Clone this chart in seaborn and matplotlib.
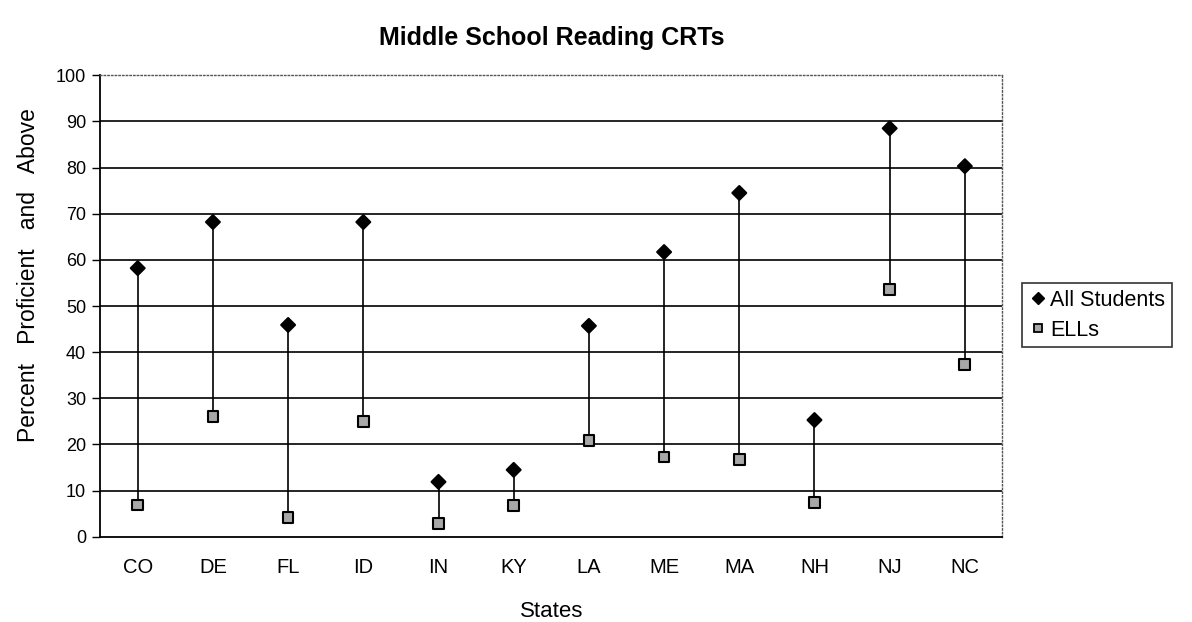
import matplotlib
matplotlib.use("Agg")
import matplotlib.pyplot as plt
from matplotlib.lines import Line2D
import numpy as np
import pandas as pd
import seaborn as sns

# Data
states = ["CO", "DE", "FL", "ID", "IN", "KY", "LA", "ME", "MA", "NH", "NJ", "NC"]
all_students = [58.2, 68.2, 45.9, 68.2, 11.9, 14.5, 45.7, 61.7, 74.5, 25.3, 88.5, 80.3]
ells = [6.9, 26.0, 4.1, 24.9, 2.8, 6.7, 20.8, 17.3, 16.7, 7.4, 53.5, 37.4]

df = pd.DataFrame({"State": states * 2,
                   "Percent": all_students + ells,
                   "Group": ["All Students"] * len(states) + ["ELLs"] * len(states)})

sns.set_style("white")
plt.rcParams["font.family"] = ["Liberation Sans", "DejaVu Sans"]
plt.rcParams["text.color"] = "black"
plt.rcParams["axes.labelcolor"] = "black"
plt.rcParams["xtick.color"] = "black"
plt.rcParams["ytick.color"] = "black"

fig = plt.figure(figsize=(11.92, 6.22), dpi=100)
ax = fig.add_axes([0.084, 0.137, 0.757, 0.742])

# horizontal gridlines
for y in range(10, 100, 10):
    ax.axhline(y, color="black", lw=1.2, zorder=0)

# connecting lines
ax.vlines(np.arange(len(states)), ells, all_students, color="black", lw=1.2, zorder=1)

sns.scatterplot(data=df, x="State", y="Percent", style="Group", hue="Group",
                markers={"All Students": "D", "ELLs": "s"},
                palette={"All Students": "black", "ELLs": "#a8a8a8"},
                size="Group", sizes={"All Students": 50, "ELLs": 60},
                edgecolor="black", linewidth=1.5, ax=ax, zorder=3, legend=False)

ax.set_xlim(-0.5, len(states) - 0.5)
ax.set_ylim(0, 100)
ax.set_yticks(range(0, 101, 10))
ax.set_xticks(np.arange(len(states)))
ax.set_xticklabels(states)
ax.set_xticks(np.arange(len(states) + 1) - 0.5, minor=True)
ax.tick_params(axis="x", which="major", length=0, labelsize=14.5, pad=15)
ax.tick_params(axis="x", which="minor", length=6, width=1, color="black", direction="out")
ax.tick_params(axis="y", length=6, width=1, color="black", labelsize=13, left=True, pad=4)

for side in ["left", "bottom"]:
    ax.spines[side].set_color("black")
    ax.spines[side].set_linewidth(1.3)
for side in ["top", "right"]:
    ax.spines[side].set_color("#555555")
    ax.spines[side].set_linestyle(":")
    ax.spines[side].set_linewidth(1)

ax.set_xlabel("States", fontsize=16)
ax.xaxis.set_label_coords(0.5, -0.14)
ax.set_ylabel("Percent   Proficient   and   Above", fontsize=16.5)
ax.yaxis.set_label_coords(-0.067, 0.567)
ax.set_title("Middle School Reading CRTs", fontsize=18, fontweight="bold", pad=22)

handles = [Line2D([], [], marker="D", ls="", color="black", markersize=6),
           Line2D([], [], marker="s", ls="", markerfacecolor="#a8a8a8",
                  markeredgecolor="black", markeredgewidth=1.3, markersize=6)]
leg = ax.legend(handles, ["All Students", "ELLs"], loc="center left",
                bbox_to_anchor=(1.022, 0.48), fontsize=15.5, frameon=True,
                fancybox=False, edgecolor="black", handletextpad=0.1,
                handlelength=0.9, borderpad=0.3, labelspacing=0.4,
                borderaxespad=0)
leg.get_frame().set_linewidth(1.2)

fig.savefig("out.png", dpi=100, facecolor="white")
